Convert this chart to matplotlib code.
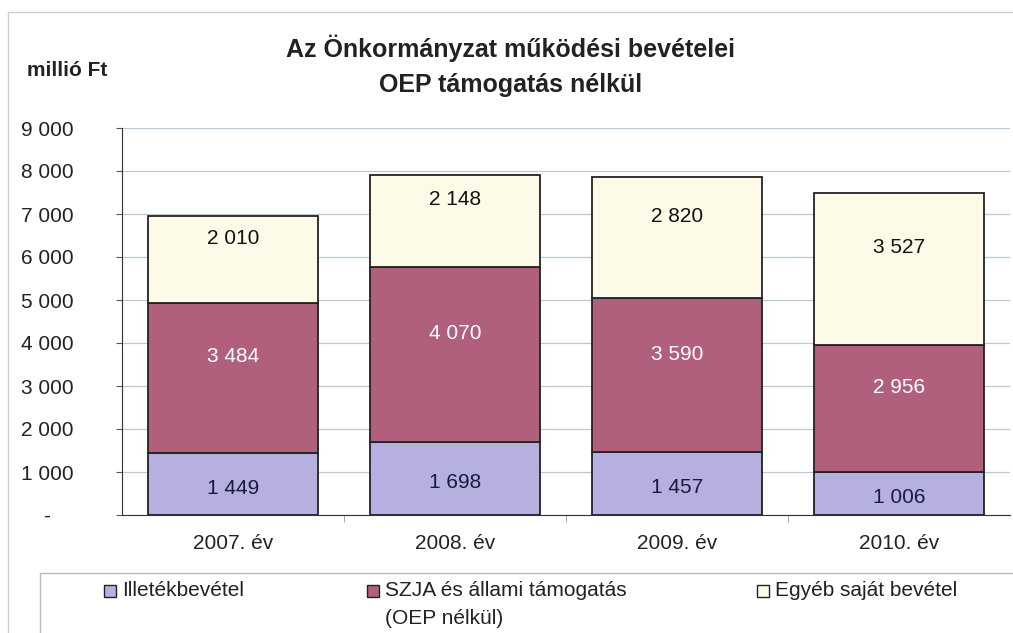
import matplotlib

matplotlib.use("Agg")
import matplotlib.pyplot as plt
from matplotlib.patches import Rectangle

plt.rcParams["font.family"] = ["Liberation Sans", "DejaVu Sans"]

years = ["2007. év", "2008. év", "2009. év", "2010. év"]
series_names = ["Illetékbevétel", "SZJA és állami támogatás\n(OEP nélkül)", "Egyéb saját bevétel"]
illetek = [1449, 1698, 1457, 1006]
szja = [3484, 4070, 3590, 2956]
egyeb = [2010, 2148, 2820, 3527]
yticks = [0, 1000, 2000, 3000, 4000, 5000, 6000, 7000, 8000, 9000]

colors = ["#b5b0e0", "#b0607c", "#fdfbe8"]
label_colors = ["#1a1a40", "#ffffff", "#111111"]
label_offsets = [-3, 15, 15]


def fmt(v):
    return f"{v:,}".replace(",", " ") if v else "-    "


fig = plt.figure(figsize=(10.13, 6.33), dpi=100)
ax = fig.add_axes([122 / 1013, 1 - 515 / 633, 888 / 1013, 387 / 633])

x = range(len(years))
bottom = [0] * len(years)
for vals, col, lc, off in zip([illetek, szja, egyeb], colors, label_colors, label_offsets):
    ax.bar(x, vals, bottom=bottom, width=0.77, color=col, edgecolor="#222222",
           linewidth=1.3, zorder=3)
    for i, v in enumerate(vals):
        ax.annotate(fmt(v), (i, bottom[i] + v / 2), xytext=(0, off),
                    textcoords="offset points", ha="center", va="center",
                    fontsize=15, color=lc, zorder=4)
    bottom = [b + v for b, v in zip(bottom, vals)]

ax.set_xlim(-0.5, 3.5)
ax.set_ylim(0, 9000)
ax.set_yticks(yticks)
ax.set_yticklabels([fmt(v) for v in yticks], fontsize=15, color="#222222")
ax.tick_params(axis="y", pad=31, length=4, color="#555555")
ax.set_xticks(list(x))
ax.set_xticklabels(years, fontsize=15, color="#222222")
ax.tick_params(axis="x", length=0, pad=14)
ax.set_xticks([0.5, 1.5, 2.5], minor=True)
ax.tick_params(axis="x", which="minor", length=5, color="#999999")
ax.grid(axis="y", color="#b8c8d4", linewidth=0.9, zorder=0)
for s in ["top", "right"]:
    ax.spines[s].set_visible(False)
ax.spines["left"].set_color("#333333")
ax.spines["bottom"].set_color("#333333")

fig.text(27 / 1013, 1 - 70 / 633, "millió Ft", fontsize=15, fontweight="bold",
         va="center", color="#222222")
fig.text(511 / 1013, 1 - 66 / 633, "Az Önkormányzat működési bevételei\nOEP támogatás nélkül",
         fontsize=18, fontweight="bold", ha="center", va="center",
         linespacing=1.6, color="#222222")

# outer chart frame and legend box
fig.add_artist(Rectangle((8 / 1013, -0.01), 1.1, 1 - 12 / 633 + 0.01, transform=fig.transFigure,
                         fill=False, edgecolor="#c8d0d8", linewidth=1))
fig.add_artist(Rectangle((40 / 1013, -0.01), 1.1, (633 - 573) / 633 + 0.01,
                         transform=fig.transFigure, fill=False, edgecolor="#b0bcc8", linewidth=1))
legend_x = [104, 367, 757]
for name, col, lx in zip(series_names, colors, legend_x):
    fig.add_artist(Rectangle((lx / 1013, 1 - 597 / 633), 12 / 1013, 12 / 633,
                             transform=fig.transFigure, facecolor=col,
                             edgecolor="#222222", linewidth=1))
    fig.text((lx + 18) / 1013, 1 - 581 / 633, name, fontsize=15, va="top",
             color="#222222", linespacing=1.6)

fig.savefig("out.png", dpi=100)
